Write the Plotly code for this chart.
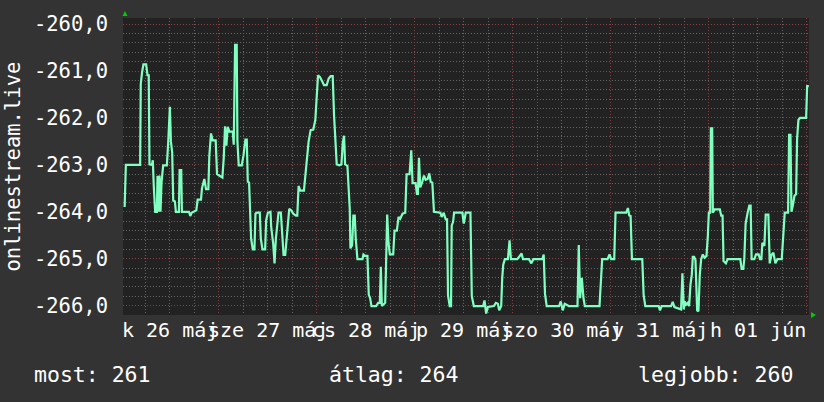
import plotly.graph_objects as go

# time in hours since 26 May 00:00
hours = [1.0, 1.3, 4.8, 4.95, 5.28, 5.6, 6.27, 6.6, 6.9, 7.08, 7.7, 7.9, 8.15, 8.48, 8.9, 9.05, 9.3, 9.54, 9.79,
         10.03, 10.44, 11.34, 11.67, 12.08, 12.33, 12.65, 12.9, 13.31, 13.55, 14.29, 14.46, 14.86, 15.03, 16.75,
         17.08, 17.4, 18.55, 18.88, 19.7, 19.94, 20.52, 20.93, 21.5, 21.74, 22.15, 22.56, 23.3, 23.63, 24.94,
         25.27, 25.59, 25.92, 26.25, 26.66, 27.48, 27.72, 27.89, 28.05, 28.45, 28.62, 28.94, 29.68, 30.09, 30.58,
         30.91, 31.16, 31.48, 31.73, 31.97, 32.38, 32.79, 33.04, 33.37, 34.1, 34.35, 34.76, 35.41, 35.66, 36.07,
         36.72, 36.89, 37.38, 37.71, 38.04, 38.36, 38.69, 39.26, 39.51, 39.92, 40.33, 40.66, 40.98, 41.31, 41.8,
         42.29, 42.95, 43.28, 43.6, 44.01, 44.91, 45.24, 45.57, 46.06, 46.55, 47.21, 47.7, 48.03, 48.36, 48.85,
         49.34, 49.83, 50.48, 50.97, 51.47, 51.96, 52.29, 52.61, 52.94, 53.6, 54.09, 54.42, 54.74, 54.99, 55.56,
         56.13, 56.3, 56.71, 57.02, 57.35, 57.6, 58.01, 59.24, 59.48, 59.89, 60.46, 60.79, 61.12, 61.45, 62.59,
         63.09, 63.5, 63.74, 63.99, 64.4, 64.81, 65.13, 65.3, 65.62, 65.95, 66.77, 67.1, 67.67, 68.08, 68.49,
         69.06, 69.72, 70.05, 70.78, 71.19, 71.52, 72.26, 72.59, 72.83, 73.08, 73.41, 73.9, 74.31, 74.72, 75.21,
         75.62, 75.94, 76.35, 76.76, 78.32, 78.65, 79.14, 79.63, 79.96, 80.2, 80.61, 80.94, 81.1, 81.43, 81.68,
         83.72, 84.05, 84.54, 85.69, 86.02, 86.51, 88.8, 89.13, 89.54, 89.95, 91.42, 91.91, 92.4, 92.73, 93.22,
         93.47, 93.72, 94.12, 94.86, 95.27, 95.6, 97.15, 97.81, 98.22, 98.55, 100.02, 100.6, 101.09, 103.3,
         103.63, 103.95, 104.36, 107.39, 107.8, 108.29, 108.78, 109.44, 109.77, 111.9, 112.22, 112.55, 112.96,
         113.37, 113.7, 117.29, 117.62, 117.95, 119.26, 119.75, 120.16, 120.9, 121.22, 123.84, 124.25, 124.58,
         124.91, 125.24, 127.77, 128.1, 128.51, 131.79, 132.11, 132.52, 134.82, 135.23, 135.64, 136.29, 136.78,
         137.27, 137.6, 137.93, 138.17, 138.5, 138.91, 139.24, 139.57, 139.9, 140.14, 140.47, 140.8, 141.21,
         141.53, 141.86, 142.19, 142.6, 143.01, 143.5, 143.83, 144.07, 144.4, 144.56, 144.89, 145.05, 145.46,
         146.77, 147.1, 147.43, 147.67, 148.25, 148.66, 151.77, 152.1, 152.51, 152.75, 153.08, 153.57, 153.98,
         154.31, 154.55, 155.21, 155.62, 156.27, 156.6, 156.93, 157.18, 157.67, 158.0, 158.65, 158.98, 159.39,
         159.88, 160.37, 160.86, 161.93, 162.34, 162.66, 163.48, 163.73, 164.06, 164.3, 164.63, 165.04, 165.45,
         165.69, 166.02, 166.43, 167.9, 168.15, 168.56]

values = [-263.9, -263.0, -263.0, -261.28, -261.02, -260.86, -260.86, -261.09, -261.09, -262.99, -263.0, -262.9,
          -263.48, -264.0, -264.0, -263.23, -264.0, -263.23, -264.0, -263.38, -263.01, -263.01, -262.53, -261.76,
          -262.5, -262.74, -263.76, -263.78, -264.0, -264.0, -263.11, -263.11, -264.0, -264.0, -264.09, -264.02,
          -263.97, -263.74, -263.74, -263.5, -263.3, -263.52, -263.52, -262.81, -262.33, -262.48, -262.48, -263.2,
          -263.27, -262.85, -262.18, -262.59, -262.19, -262.29, -262.29, -262.57, -261.48, -260.44, -260.44,
          -262.5, -263.01, -263.01, -262.81, -262.46, -262.46, -263.36, -263.38, -264.0, -264.57, -264.8, -264.8,
          -264.04, -264.02, -264.02, -264.57, -264.8, -264.8, -264.18, -264.02, -264.0, -264.32, -264.68, -265.1,
          -264.57, -264.22, -264.02, -264.02, -264.36, -264.92, -264.92, -264.64, -264.22, -263.94, -263.97,
          -264.04, -264.08, -264.08, -263.45, -263.55, -263.55, -263.23, -262.88, -262.5, -262.26, -262.25,
          -262.04, -261.58, -261.09, -261.13, -261.21, -261.3, -261.3, -261.16, -261.11, -261.11, -261.95,
          -262.39, -262.99, -263.01, -262.99, -262.53, -262.38, -262.99, -263.02, -263.94, -264.78, -264.71,
          -264.08, -264.08, -264.57, -265.01, -265.01, -264.91, -264.94, -264.94, -265.77, -265.84, -266.01,
          -266.01, -265.94, -265.94, -265.17, -266.01, -265.98, -265.94, -264.71, -264.06, -264.66, -264.91,
          -264.91, -264.4, -264.4, -264.11, -264.15, -264.04, -264.02, -263.2, -263.2, -262.69, -263.39, -263.39,
          -263.62, -263.62, -262.85, -263.48, -263.36, -263.23, -263.32, -263.3, -263.18, -263.36, -263.38,
          -264.0, -264.02, -264.11, -264.02, -264.16, -264.16, -265.78, -266.01, -266.01, -264.29, -264.22,
          -264.02, -264.02, -264.25, -264.02, -264.02, -265.8, -266.01, -266.01, -265.89, -266.17, -266.03,
          -266.01, -265.94, -265.96, -266.1, -266.01, -265.41, -265.13, -265.01, -265.01, -264.61, -265.01,
          -265.01, -264.92, -264.89, -265.01, -265.01, -265.1, -265.01, -265.01, -264.91, -265.75, -266.01,
          -266.01, -265.91, -266.1, -265.96, -265.99, -266.01, -266.01, -264.71, -265.84, -265.41, -265.84,
          -266.01, -266.01, -265.34, -265.01, -265.01, -264.91, -265.01, -265.01, -264.02, -264.02, -263.92,
          -264.08, -264.09, -265.01, -265.01, -265.77, -266.01, -266.01, -266.1, -266.01, -266.01, -265.92,
          -266.03, -266.05, -266.08, -266.08, -265.31, -266.08, -265.91, -265.98, -265.94, -266.01, -265.56,
          -265.34, -264.96, -264.96, -265.03, -266.1, -266.12, -265.34, -265.01, -264.91, -264.98, -264.94,
          -264.5, -264.02, -264.02, -262.22, -262.22, -264.02, -263.95, -263.95, -264.08, -264.08, -265.05,
          -265.1, -265.01, -265.01, -265.22, -265.22, -265.01, -264.25, -264.02, -263.87, -263.87, -265.01,
          -265.01, -264.91, -264.91, -265.01, -265.01, -264.66, -264.73, -264.06, -264.06, -265.1, -264.92,
          -264.87, -265.1, -265.01, -265.01, -264.43, -264.02, -264.02, -262.36, -262.36, -264.0, -263.87,
          -263.66, -263.62, -262.43, -262.04, -262.0, -262.0, -261.32, -261.32]

y_tick_vals = [-266, -265, -264, -263, -262, -261, -260]
y_tick_text = ["-266,0", "-265,0", "-264,0", "-263,0", "-262,0", "-261,0", "-260,0"]

day_label_hours = [12, 36, 60, 84, 108, 132, 156]
day_labels = ["k 26 máj", "sze 27 máj", "cs 28 máj", "p 29 máj", "szo 30 máj", "v 31 máj", "h 01 jún"]

summary_labels = ["most: 261", "átlag: 264", "legjobb: 260"]
summary_x = [-0.1327, 0.2973, 0.7478]

series_name = "onlinestream.live"

FONT = "DejaVu Sans Mono"
W, H = 824, 402
L, R, T, B = 123, 15, 15, 87

fig = go.Figure()
fig.add_trace(go.Scatter(x=hours, y=values, mode="lines",
                         line=dict(color="#80ffc0", width=2.2), hoverinfo="skip", showlegend=False))

major_grid = "#8a4040"
minor_grid = "#666666"
DASH = "1px,2px"

fig.update_layout(
    width=W, height=H,
    margin=dict(l=L, r=R, t=T, b=B, pad=0),
    paper_bgcolor="#333333",
    plot_bgcolor="#222222",
    font=dict(family=FONT, size=20, color="#ffffff"),
    showlegend=False,
)

fig.update_xaxes(
    range=[0.6, 168.6],
    tickmode="linear", tick0=0, dtick=24,
    showticklabels=False, ticks="",
    showgrid=True, gridcolor=major_grid, griddash=DASH, gridwidth=1,
    minor=dict(tickmode="linear", tick0=0, dtick=6, showgrid=True,
               gridcolor=minor_grid, griddash=DASH, gridwidth=1),
    zeroline=False, showline=False, fixedrange=True,
)
fig.update_yaxes(
    range=[-266.2, -259.87],
    tickmode="array", tickvals=y_tick_vals, ticktext=y_tick_text,
    ticks="", ticklabelstandoff=14,
    tickfont=dict(family=FONT, size=20.5, color="#ffffff"),
    showgrid=True, gridcolor=major_grid, griddash=DASH, gridwidth=1,
    minor=dict(tickmode="linear", tick0=-266, dtick=0.2, showgrid=True,
               gridcolor=minor_grid, griddash=DASH, gridwidth=1),
    zeroline=False, showline=False, fixedrange=True,
)

# day labels under the axis
for hx, lab in zip(day_label_hours, day_labels):
    fig.add_annotation(x=hx, y=-0.05, xref="x", yref="paper", text=lab, showarrow=False,
                       xanchor="center", yanchor="middle",
                       font=dict(family=FONT, size=20, color="#ffffff"))

# vertical axis title
fig.add_annotation(x=-0.1618, y=0.5, xref="paper", yref="paper", text=series_name, showarrow=False,
                   textangle=-90, xanchor="center", yanchor="middle",
                   font=dict(family=FONT, size=20.5, color="#ffffff"))

# summary line
for sx, lab in zip(summary_x, summary_labels):
    fig.add_annotation(x=sx, y=-0.2, xref="paper", yref="paper", text=lab, showarrow=False,
                       xanchor="left", yanchor="middle",
                       font=dict(family=FONT, size=21.5, color="#ffffff"))

# axis arrows
fig.add_shape(type="path", xref="paper", yref="paper",
              path="M -0.0007,1.0067 L 0.0066,1.0067 L 0.0029,1.0233 Z",
              fillcolor="#00cc00", line=dict(width=0))
fig.add_shape(type="path", xref="paper", yref="paper",
              path="M 1.0029,0.01 L 1.0029,-0.01 L 1.0102,0 Z",
              fillcolor="#00cc00", line=dict(width=0))

fig.write_html("out.html")
